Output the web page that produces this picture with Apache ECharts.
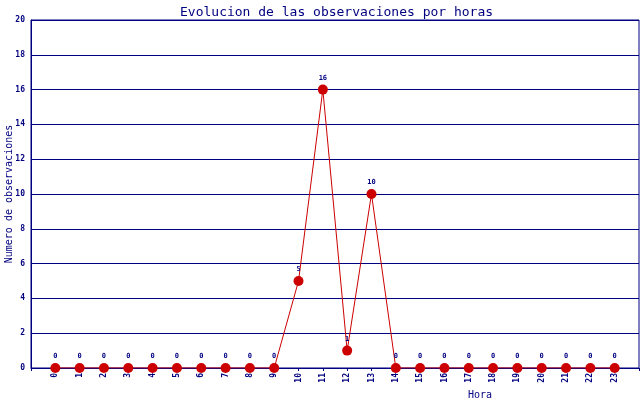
<!DOCTYPE html>
<html lang="es">
<head>
<meta charset="utf-8">
<title>Evolucion de las observaciones por horas</title>
<style>
  html, body { margin: 0; padding: 0; background: #fff; }
  #chart { width: 640px; height: 400px; }
</style>
</head>
<body>
<div id="chart"></div>
<script src="https://cdn.jsdelivr.net/npm/echarts@6/dist/echarts.min.js"></script>
<script>
var horas = [0, 1, 2, 3, 4, 5, 6, 7, 8, 9, 10, 11, 12, 13, 14, 15, 16, 17, 18, 19, 20, 21, 22, 23];
var observaciones = [0, 0, 0, 0, 0, 0, 0, 0, 0, 0, 5, 16, 1, 10, 0, 0, 0, 0, 0, 0, 0, 0, 0, 0];
var yTicks = [0, 2, 4, 6, 8, 10, 12, 14, 16, 18, 20];

var navy = '#000080';
var rojo = '#cc0000';
var mono = '"DejaVu Sans Mono", monospace';

var puntos = [];
for (var i = 0; i < horas.length; i++) {
    puntos.push([horas[i], observaciones[i]]);
}

var myChart = echarts.init(document.getElementById('chart'));
myChart.setOption({
    animation: false,
    title: {
        text: 'Evolucion de las observaciones por horas',
        left: 175,
        top: 1,
        textStyle: {
            fontFamily: mono,
            fontSize: 13,
            fontWeight: 'normal',
            color: navy
        }
    },
    grid: {
        left: 31,
        right: 1,
        top: 20,
        bottom: 32,
        containLabel: false,
        outerBoundsMode: 'none',
        show: true,
        borderColor: navy,
        borderWidth: 1
    },
    xAxis: {
        type: 'value',
        min: -1,
        max: 24,
        interval: 1,
        name: 'Hora',
        nameLocation: 'middle',
        nameGap: 22,
        nameMoveOverlap: false,
        nameTextStyle: {
            fontFamily: mono,
            fontSize: 10,
            color: navy,
            padding: [0, 0, 0, 290]
        },
        axisLine: { lineStyle: { color: navy, width: 1 } },
        axisTick: { show: true, inside: false, length: 3, lineStyle: { color: navy } },
        splitLine: { show: false },
        axisLabel: {
            rotate: 90,
            margin: 5,
            fontFamily: mono,
            fontSize: 8,
            fontWeight: 'bold',
            color: navy,
            formatter: function (v) {
                return (v < 0 || v > 23) ? '' : String(v);
            }
        }
    },
    yAxis: {
        type: 'value',
        min: yTicks[0],
        max: yTicks[yTicks.length - 1],
        interval: 2,
        name: 'Numero de observaciones',
        nameLocation: 'middle',
        nameGap: 17,
        nameMoveOverlap: false,
        nameTextStyle: {
            fontFamily: mono,
            fontSize: 10,
            color: navy
        },
        axisLine: { show: true, onZero: false, lineStyle: { color: navy, width: 1 } },
        axisTick: { show: false },
        splitLine: { show: true, lineStyle: { color: navy, width: 1 } },
        axisLabel: {
            margin: 6,
            fontFamily: mono,
            fontSize: 8,
            fontWeight: 'bold',
            color: navy
        }
    },
    series: [
        {
            type: 'line',
            data: puntos,
            symbol: 'circle',
            symbolSize: 10,
            itemStyle: { color: rojo },
            lineStyle: { color: rojo, width: 1 },
            label: {
                show: true,
                position: 'top',
                distance: 3,
                fontFamily: mono,
                fontSize: 7,
                fontWeight: 'bold',
                color: navy
            }
        }
    ]
});
window.onresize = myChart.resize;
</script>
</body>
</html>
